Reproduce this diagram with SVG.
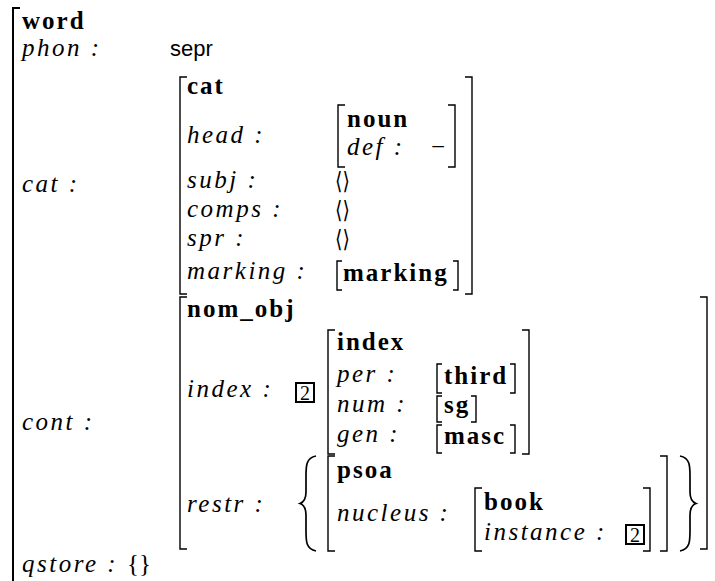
<svg xmlns="http://www.w3.org/2000/svg" width="715" height="581" viewBox="0 0 715 581">
<style>
  .b { font-family: "Liberation Serif", serif; font-weight: bold; font-size: 25px; letter-spacing: 2px; fill: #000; }
  .i { font-family: "Liberation Serif", serif; font-style: italic; font-size: 25px; letter-spacing: 2.5px; fill: #000; }
  .s { font-family: "Liberation Sans", sans-serif; font-size: 22px; fill: #000; }
  .r { font-family: "Liberation Serif", serif; font-style: normal; font-size: 25px; fill: #000; }
  .ang { font-family: "DejaVu Serif", "DejaVu Sans", serif; font-size: 19px; fill: #000; }
  .bx { font-family: "Liberation Serif", serif; font-size: 20px; fill: #000; }
  .br { fill: none; stroke: #000; stroke-width: 1.4; }
  .brO { fill: none; stroke: #000; stroke-width: 2; }
  .cb { fill: none; stroke: #000; stroke-width: 1.7; }
  .box { fill: none; stroke: #000; stroke-width: 2; }
</style>
<rect width="715" height="581" fill="#fff"/>

<g id="word">
  <path class="brO" d="M20,8 H13 V581"/>
  <text class="b" x="22" y="29">word</text>
  <text class="i" x="22" y="56">phon :</text>
  <text class="s" x="170" y="56">sepr</text>
  <text class="i" x="22" y="192">cat :</text>
  <text class="i" x="22" y="430">cont :</text>
  <text class="i" x="22" y="572">qstore : <tspan class="r" style="letter-spacing:0">{}</tspan></text>
</g>

<g id="cat">
  <path class="br" d="M187,77 H180 V294 H187"/>
  <path class="br" d="M465,77 H472 V294 H465"/>
  <text class="b" x="187" y="94">cat</text>
  <text class="i" x="187" y="143">head :</text>
  <text class="i" x="187" y="188">subj :</text>
  <text class="i" x="187" y="217">comps :</text>
  <text class="i" x="187" y="246">spr :</text>
  <text class="i" x="187" y="279">marking :</text>
  <text class="ang" transform="translate(335,189) scale(1,1.25)">⟨⟩</text>
  <text class="ang" transform="translate(335,218) scale(1,1.25)">⟨⟩</text>
  <text class="ang" transform="translate(335,247) scale(1,1.25)">⟨⟩</text>
  <path class="br" d="M342,261 H337 V290 H342"/>
  <path class="br" d="M453,261 H458 V290 H453"/>
  <text class="b" x="343" y="281">marking</text>
</g>

<g id="noun">
  <path class="br" d="M345,105 H338 V167 H345"/>
  <path class="br" d="M448,105 H455 V167 H448"/>
  <text class="b" x="347" y="127">noun</text>
  <text class="i" x="347" y="155">def :</text>
  <text class="r" x="431" y="155">−</text>
</g>

<g id="nom_obj">
  <path class="br" d="M187,297 H180 V549 H187"/>
  <path class="br" d="M700,297 H707 V549 H700"/>
  <text class="b" x="187" y="317">nom_obj</text>
  <text class="i" x="187" y="397">index :</text>
  <rect class="box" x="296" y="383" width="18" height="19"/>
  <text class="bx" x="300" y="400">2</text>
  <text class="i" x="187" y="512">restr :</text>
  <path class="cb" d="M316,456 C306,458 306,466 306,476 L306,492 C306,499 304,502 300,503.5 C304,505 306,508 306,515 L306,531 C306,541 306,549 316,551"/>
  <path class="cb" d="M680,456 C690,458 690,466 690,476 L690,492 C690,499 692,502 696,503.5 C692,505 690,508 690,515 L690,531 C690,541 690,549 680,551"/>
</g>

<g id="index">
  <path class="br" d="M335,330 H328 V454 H335"/>
  <path class="br" d="M522,330 H529 V454 H522"/>
  <text class="b" x="337" y="350">index</text>
  <text class="i" x="337" y="382">per :</text>
  <text class="i" x="337" y="412">num :</text>
  <text class="i" x="337" y="442">gen :</text>
  <path class="br" d="M442,364 H437 V393 H442"/>
  <path class="br" d="M510,364 H515 V393 H510"/>
  <text class="b" x="444" y="384">third</text>
  <path class="br" d="M442,396 H437 V422 H442"/>
  <path class="br" d="M471,396 H476 V422 H471"/>
  <text class="b" x="444" y="413">sg</text>
  <path class="br" d="M442,425 H437 V453 H442"/>
  <path class="br" d="M510,425 H515 V453 H510"/>
  <text class="b" x="444" y="444">masc</text>
</g>

<g id="psoa">
  <path class="br" d="M335,456 H328 V551 H335"/>
  <path class="br" d="M660,456 H667 V551 H660"/>
  <text class="b" x="337" y="478">psoa</text>
  <text class="i" x="337" y="521">nucleus :</text>
</g>

<g id="book">
  <path class="br" d="M482,488 H475 V551 H482"/>
  <path class="br" d="M643,488 H650 V551 H643"/>
  <text class="b" x="484" y="510">book</text>
  <text class="i" x="484" y="540">instance :</text>
  <rect class="box" x="626" y="525" width="18" height="19"/>
  <text class="bx" x="630" y="542">2</text>
</g>

<g id="connectors"></g>
</svg>
